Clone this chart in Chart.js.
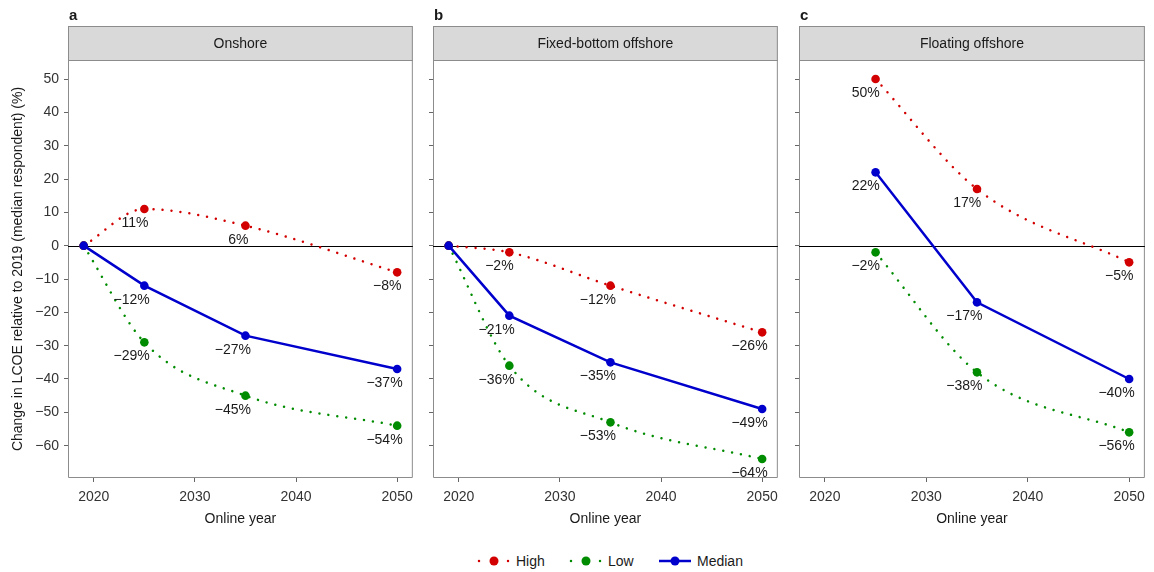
<!DOCTYPE html>
<html>
<head>
<meta charset="utf-8">
<script src="https://cdn.jsdelivr.net/npm/chart.js@4.4.1/dist/chart.umd.min.js"></script>
<style>
  body { margin: 0; background: #fff; font-family: "Liberation Sans", Arial, sans-serif; }
  #wrap { position: relative; width: 1154px; height: 572px; overflow: hidden; }
  canvas { position: absolute; top: 0; }
  #legend { position: absolute; left: 0; top: 551px; }
</style>
</head>
<body>
<div id="wrap">
  <canvas id="panelA" width="420" height="530" style="left:0px"></canvas>
  <canvas id="panelB" width="365" height="530" style="left:420px"></canvas>
  <canvas id="panelC" width="366" height="530" style="left:786px"></canvas>
  <svg id="legend" width="1154" height="20">
    <line x1="479" y1="10" x2="509" y2="10" stroke="rgb(210,0,0)" stroke-width="2.5" stroke-dasharray="0.01 14.5" stroke-linecap="round"/>
    <circle cx="494" cy="10" r="4.5" fill="rgb(210,0,0)"/>
    <text x="516" y="15" font-size="14" fill="#1a1a1a" font-family="Liberation Sans, Arial, sans-serif">High</text>
    <line x1="571" y1="10" x2="601" y2="10" stroke="rgb(0,140,0)" stroke-width="2.5" stroke-dasharray="0.01 14.5" stroke-linecap="round"/>
    <circle cx="586" cy="10" r="4.5" fill="rgb(0,140,0)"/>
    <text x="608" y="15" font-size="14" fill="#1a1a1a" font-family="Liberation Sans, Arial, sans-serif">Low</text>
    <line x1="659" y1="10" x2="691" y2="10" stroke="rgb(0,0,205)" stroke-width="2.5"/>
    <circle cx="675" cy="10" r="4.5" fill="rgb(0,0,205)"/>
    <text x="697" y="15" font-size="14" fill="#1a1a1a" font-family="Liberation Sans, Arial, sans-serif">Median</text>
  </svg>
</div>
<script>
// online years (x) and LCOE change in % vs 2019
const years = [2019, 2025, 2035, 2050];
const xTicks = [2020, 2030, 2040, 2050];
const yTicks = [-60, -50, -40, -30, -20, -10, 0, 10, 20, 30, 40, 50];

const onshoreHigh   = [0, 11, 6, -8];
const onshoreLow    = [0, -29, -45, -54];
const onshoreMedian = [0, -12, -27, -37];

const fixedHigh   = [0, -2, -12, -26];
const fixedLow    = [0, -36, -53, -64];
const fixedMedian = [0, -21, -35, -49];

const floatingHigh   = [null, 50, 17, -5];
const floatingLow    = [null, -2, -38, -56];
const floatingMedian = [null, 22, -17, -40];

const RED = "rgb(210,0,0)";
const GREEN = "rgb(0,140,0)";
const BLUE = "rgb(0,0,205)";
const FONT = '"Liberation Sans", Arial, sans-serif';

function toPoints(vals) {
    return years.map((x, i) => ({x: x, y: vals[i]})).filter(p => p.y !== null);
}

function minus(v) {
    return String(v).replace("-", "\u2212");
}

// header strip, panel letter, zero line, frame and point labels
const panelDeco = {
    id: "panelDeco",
    beforeDraw(chart, args, opts) {
        const a = chart.chartArea;
        const ctx = chart.ctx;
        ctx.save();
        ctx.fillStyle = "#d9d9d9";
        ctx.fillRect(a.left, 26, a.right - a.left, a.top - 26);
        ctx.strokeStyle = "#8c8c8c";
        ctx.lineWidth = 1;
        ctx.strokeRect(a.left + 0.5, 26.5, a.right - a.left - 1, a.top - 26);
        ctx.fillStyle = "#1a1a1a";
        ctx.font = "14px " + FONT;
        ctx.textAlign = "center";
        ctx.textBaseline = "middle";
        ctx.fillText(opts.title, (a.left + a.right) / 2, 44);
        ctx.font = "bold 15px " + FONT;
        ctx.textAlign = "left";
        ctx.textBaseline = "alphabetic";
        ctx.fillText(opts.letter, a.left + 1, 20);
        ctx.restore();
    },
    beforeDatasetsDraw(chart) {
        const a = chart.chartArea;
        const ctx = chart.ctx;
        const y0 = Math.round(chart.scales.y.getPixelForValue(0)) + 0.5;
        ctx.save();
        ctx.strokeStyle = "#8c8c8c";
        ctx.lineWidth = 1;
        ctx.beginPath();
        ctx.moveTo(a.left + 0.5, a.top);
        ctx.lineTo(a.left + 0.5, a.bottom - 0.5);
        ctx.lineTo(a.right - 0.5, a.bottom - 0.5);
        ctx.lineTo(a.right - 0.5, a.top);
        ctx.stroke();
        ctx.strokeStyle = "#000";
        ctx.beginPath();
        ctx.moveTo(a.left, y0);
        ctx.lineTo(a.right, y0);
        ctx.stroke();
        ctx.restore();
    },
    afterDatasetsDraw(chart) {
        const ctx = chart.ctx;
        ctx.save();
        ctx.font = "14px " + FONT;
        ctx.fillStyle = "#1a1a1a";
        ctx.textAlign = "left";
        ctx.textBaseline = "middle";
        chart.data.datasets.forEach((ds, di) => {
            const meta = chart.getDatasetMeta(di);
            meta.data.forEach((el, i) => {
                const p = ds.data[i];
                if (p.x === years[0]) return; // origin point is not labelled
                const txt = minus(p.y) + "%";
                const w = ctx.measureText(txt).width;
                ctx.fillText(txt, el.x - 0.85 * w, el.y + 14);
            });
        });
        ctx.restore();
    }
};

function makePanel(id, letter, title, high, low, median, showY) {
    const dotted = {
        borderWidth: 2.5,
        borderDash: [0.01, 9],
        borderCapStyle: "round",
        cubicInterpolationMode: "monotone",
        pointRadius: 4.3,
        pointBorderWidth: 0
    };
    new Chart(document.getElementById(id), {
        type: "line",
        data: {
            datasets: [
                {label: "Median", data: toPoints(median), borderColor: BLUE, backgroundColor: BLUE,
                 pointBackgroundColor: BLUE, borderWidth: 2.5, pointRadius: 4.3, pointBorderWidth: 0, tension: 0, order: 0},
                Object.assign({label: "High", data: toPoints(high), borderColor: RED, backgroundColor: RED,
                 pointBackgroundColor: RED, order: 1}, dotted),
                Object.assign({label: "Low", data: toPoints(low), borderColor: GREEN, backgroundColor: GREEN,
                 pointBackgroundColor: GREEN, order: 2}, dotted)
            ]
        },
        options: {
            responsive: false,
            animation: false,
            layout: {padding: {top: 60, right: 6, left: 0, bottom: 0}},
            plugins: {
                legend: {display: false},
                tooltip: {enabled: false},
                panelDeco: {letter: letter, title: title}
            },
            scales: {
                x: {
                    type: "linear",
                    min: 2017.45,
                    max: 2051.55,
                    afterBuildTicks: s => { s.ticks = xTicks.map(v => ({value: v})); },
                    afterFit: s => { s.height = 52; },
                    grid: {display: true, drawOnChartArea: false, drawTicks: true, tickLength: 4, color: "#666"},
                    border: {display: false},
                    ticks: {font: {size: 14, family: FONT}, color: "#333", padding: 7, maxRotation: 0,
                            callback: v => String(v)},
                    title: {display: true, text: "Online year", font: {size: 14, family: FONT}, color: "#1a1a1a",
                            padding: {top: 0, bottom: 2}}
                },
                y: {
                    min: -69.7,
                    max: 55.7,
                    afterBuildTicks: s => { s.ticks = yTicks.map(v => ({value: v})); },
                    afterFit: s => { s.width = showY ? 68 : 13; },
                    grid: {display: true, drawOnChartArea: false, drawTicks: true, tickLength: 4, color: "#666"},
                    border: {display: false},
                    ticks: {display: showY, font: {size: 14, family: FONT}, color: "#333", padding: 5,
                            callback: v => minus(v)},
                    title: {display: showY, text: "Change in LCOE relative to 2019 (median respondent) (%)",
                            font: {size: 14, family: FONT}, color: "#1a1a1a", padding: {top: 10, bottom: 0}}
                }
            }
        },
        plugins: [panelDeco]
    });
}

makePanel("panelA", "a", "Onshore", onshoreHigh, onshoreLow, onshoreMedian, true);
makePanel("panelB", "b", "Fixed-bottom offshore", fixedHigh, fixedLow, fixedMedian, false);
makePanel("panelC", "c", "Floating offshore", floatingHigh, floatingLow, floatingMedian, false);
</script>
</body>
</html>
